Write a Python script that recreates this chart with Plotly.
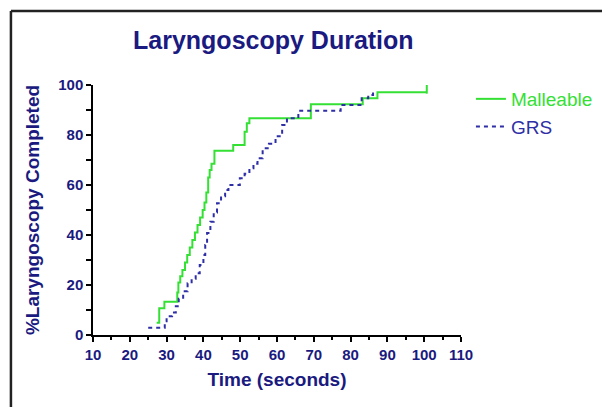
import plotly.graph_objects as go

# ---- data ----
malleable_t = [27.3, 28.0, 29.4, 32.9, 33.2, 33.7, 34.3, 35.0, 35.6, 36.3, 37.0, 37.7,
               38.4, 39.1, 39.8, 40.3, 40.8, 41.3, 41.7, 42.2, 43.0, 48.1, 51.2, 51.8,
               52.5, 69.2, 83.3, 87.3, 100.7]
malleable_pct = [4.9, 10.7, 13.3, 17.0, 21.0, 23.5, 26.0, 29.0, 32.0, 35.0, 38.0, 41.0,
                 44.0, 47.0, 50.0, 53.0, 57.0, 63.0, 66.0, 68.5, 73.7, 76.0, 81.3, 84.7,
                 86.7, 92.3, 94.7, 97.1, 97.1]
malleable_censor_t = [100.7]
malleable_censor_pct = [98.5]

grs_t = [25.0, 29.5, 30.0, 31.5, 32.5, 33.3, 34.5, 35.7, 36.8, 37.9, 39.0, 40.0, 40.5,
         41.0, 41.9, 42.8, 43.7, 44.8, 45.9, 46.8, 49.9, 51.2, 52.5, 53.6, 54.7, 56.1,
         57.8, 59.6, 61.4, 62.7, 65.8, 77.3, 83.0, 84.8, 86.1]
grs_pct = [2.9, 5.5, 7.5, 9.0, 11.5, 14.5, 17.5, 20.7, 22.5, 24.7, 28.0, 32.0, 36.0,
           40.8, 45.3, 49.0, 52.7, 55.5, 58.0, 60.0, 62.7, 64.5, 66.7, 68.5, 70.7, 74.7,
           76.5, 79.5, 84.0, 86.7, 89.7, 92.0, 94.7, 96.0, 97.7]

x_ticks = [10, 20, 30, 40, 50, 60, 70, 80, 90, 100, 110]
y_ticks = [0, 20, 40, 60, 80, 100]

GREEN = "#35e035"
BLUE = "#2e2ea6"
NAVY = "#1a1a80"
FONT = "Liberation Sans, Arial, sans-serif"

fig = go.Figure()
fig.add_trace(go.Scatter(
    x=malleable_t, y=malleable_pct, mode="lines", line_shape="hv",
    line=dict(color=GREEN, width=2),
    name="<span style='color:%s'>Malleable</span>" % GREEN))
fig.add_trace(go.Scatter(
    x=malleable_censor_t, y=malleable_censor_pct, mode="markers",
    marker=dict(symbol="line-ns-open", size=7, color=GREEN,
                line=dict(color=GREEN, width=2)),
    showlegend=False, hoverinfo="skip"))
fig.add_trace(go.Scatter(
    x=grs_t, y=grs_pct, mode="lines", line_shape="hv",
    line=dict(color=BLUE, width=2, dash="4px,4px"),
    name="<span style='color:%s'>GRS</span>" % BLUE))

axis_common = dict(
    showline=True, linecolor="black", linewidth=1.5, mirror=False,
    ticks="outside", ticklen=5, tickwidth=1.5, tickcolor="black",
    showgrid=False, zeroline=False, automargin=False,
    tickfont=dict(family=FONT, size=15, color=NAVY, weight="bold"),
)

fig.update_xaxes(
    range=[10, 110], tickvals=x_ticks, ticktext=[str(v) for v in x_ticks],
    minor=dict(ticks="outside", ticklen=3, tickcolor="black", dtick=5, tick0=10),
    title=dict(text="<b>Time (seconds)</b>",
               font=dict(family=FONT, size=19, color=NAVY), standoff=11),
    **axis_common)
fig.update_yaxes(
    range=[0, 100], tickvals=y_ticks, ticktext=[str(v) for v in y_ticks],
    minor=dict(ticks="outside", ticklen=5, tickcolor="black", dtick=10, tick0=0),
    title=dict(text="<b>%Laryngoscopy Completed</b>",
               font=dict(family=FONT, size=19, color=NAVY), standoff=14),
    **axis_common)

fig.update_layout(
    width=602, height=399,
    margin=dict(l=85, r=140, t=77, b=72),
    paper_bgcolor="white", plot_bgcolor="white",
    title=dict(text="<b>Laryngoscopy Duration</b>",
               font=dict(family=FONT, size=25, color=NAVY),
               x=0.49, xref="paper", xanchor="center",
               y=1 - 32 / 399, yref="container", yanchor="middle"),
    legend=dict(x=1.027, y=1.02, xanchor="left", yanchor="top",
                font=dict(family=FONT, size=19, color=NAVY),
                bgcolor="rgba(0,0,0,0)", itemwidth=30, tracegroupgap=4),
    shapes=[
        dict(type="line", xref="paper", yref="paper", x0=-0.223, x1=1.4, y0=1.296, y1=1.296,
             line=dict(color="#222222", width=2.5)),
        dict(type="line", xref="paper", yref="paper", x0=-0.223, x1=-0.223, y0=1.296, y1=-0.4,
             line=dict(color="#222222", width=2.5)),
    ],
)

fig.write_html("out.html")
